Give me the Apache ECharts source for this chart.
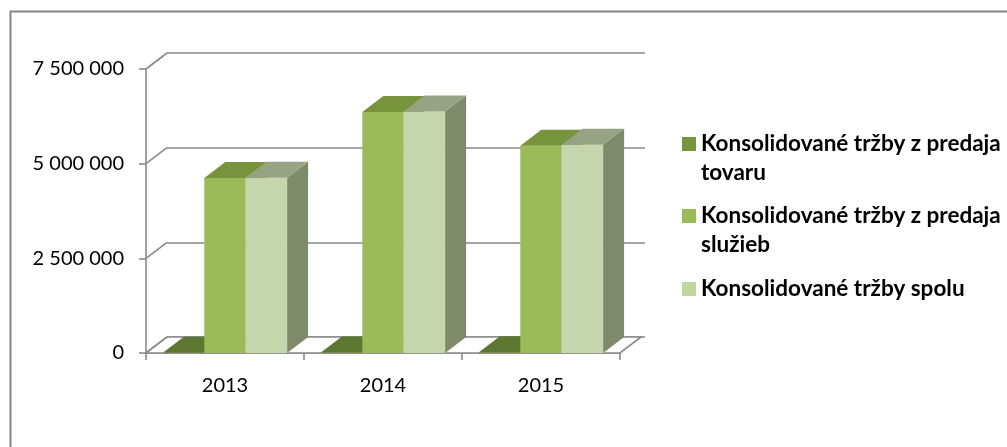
<!DOCTYPE html>
<html>
<head>
<meta charset="utf-8">
<script src="https://cdn.jsdelivr.net/npm/echarts@6/dist/echarts.min.js"></script>
<style>
  html, body { margin: 0; padding: 0; background: #fff; }
  #main { width: 1007px; height: 447px; }
</style>
</head>
<body>
<div id="main"></div>
<script>
// roky a hodnoty (odčítané z grafu)
var years = ['2013', '2014', '2015'];
var trzbyTovar = [8000, 14000, 22000];
var trzbySluzby = [4620000, 6365000, 5475000];
var trzbySpolu = [4628000, 6379000, 5497000];
var yTicks = [0, 2500000, 5000000, 7500000];

var seriesNames = [
    'Konsolidované tržby z predaja tovaru',
    'Konsolidované tržby z predaja služieb',
    'Konsolidované tržby spolu'
];
// prvý prázdny riadok - aby bol štvorček pri prvom riadku textu
var legendLabels = [
    ' \nKonsolidované tržby z predaja\ntovaru',
    ' \nKonsolidované tržby z predaja\nslužieb',
    'Konsolidované tržby spolu'
];

// farby: čelo, vrch, bok
var faces = [
    {front: '#77933c', top: '#5d7630', side: '#4f6228', legend: '#77933c'},
    {front: '#9bbb59', top: '#77933c', side: '#6b8a36', legend: '#9bbb59'},
    {front: '#c6d6ac', top: '#97a382', side: '#7f8a6a', legend: '#c3d69b'}
];

var DX = 21, DY = -16;   // hĺbka 3D
var FONT = 'Lato';
var GRID_LINE = '#8a8a8a';

function fmt(v) {
    return String(v).replace(/\B(?=(\d{3})+(?!\d))/g, ' ');
}

// 3D stĺpec
function barRenderer(k) {
    return function (params, api) {
        var i = api.value(0);
        var v = api.value(1);
        var p0 = api.coord([i, 0]);
        var p1 = api.coord([i, v]);
        var catW = api.size([1, 0])[0];
        var bw = catW * 0.262;
        var x0 = p0[0] + (k - 1.5) * bw;
        var x1 = x0 + bw;
        var y0 = p0[1], y1 = p1[1];
        var f = faces[k];
        return {
            type: 'group',
            children: [
                {type: 'polygon', shape: {points: [[x1, y1], [x1 + DX, y1 + DY], [x1 + DX, y0 + DY], [x1, y0]]},
                    style: {fill: f.side}},
                {type: 'rect', shape: {x: x0, y: y1, width: bw, height: y0 - y1},
                    style: {fill: f.front}},
                {type: 'polygon', shape: {points: [[x0, y1], [x1, y1], [x1 + DX, y1 + DY], [x0 + DX, y1 + DY]]},
                    style: {fill: f.top}}
            ]
        };
    };
}

// podlaha a šikmé čiary ľavej steny
function frameRenderer(params, api) {
    var v = api.value(0);
    var a = api.coord([0, v]);
    var catW = api.size([1, 0])[0];
    var xl = a[0] - catW / 2;
    var children = [
        {type: 'line', shape: {x1: xl, y1: a[1], x2: xl + DX, y2: a[1] + DY},
            style: {stroke: GRID_LINE, lineWidth: 1.6}}
    ];
    if (v === 0) {
        var xr = xl + catW * years.length;
        children.push({
            type: 'polygon',
            shape: {points: [[xl, a[1]], [xr, a[1]], [xr + DX, a[1] + DY], [xl + DX, a[1] + DY]]},
            style: {fill: '#fff', stroke: GRID_LINE, lineWidth: 1.6}
        });
    }
    return {type: 'group', children: children};
}

var chart = echarts.init(document.getElementById('main'));

var series = [{
    type: 'custom',
    name: 'frame',
    xAxisIndex: 0,
    yAxisIndex: 0,
    silent: true,
    z: 1,
    renderItem: frameRenderer,
    data: yTicks.map(function (t) { return [t]; }),
    encode: {y: 0}
}];
var dataSets = [trzbyTovar, trzbySluzby, trzbySpolu];
for (var k = 0; k < 3; k++) {
    series.push({
        type: 'custom',
        name: seriesNames[k],
        xAxisIndex: 0,
        yAxisIndex: 0,
        z: 3 + k,
        itemStyle: {color: faces[k].legend},
        renderItem: barRenderer(k),
        data: dataSets[k].map(function (v, i) { return [i, v]; }),
        encode: {x: 0, y: 1}
    });
}

// legenda - každá položka zvlášť
var legendTops = [100.5, 172.5, 274.5];
var legends = [];
for (var j = 0; j < 3; j++) {
    legends.push({
        left: 682,
        top: legendTops[j],
        padding: 0,
        itemWidth: 14,
        itemHeight: 14,
        itemGap: 6,
        icon: 'rect',
        selectedMode: false,
        data: [seriesNames[j]],
        formatter: (function (lbl) { return function () { return lbl; }; })(legendLabels[j]),
        textStyle: {
            fontFamily: FONT,
            fontWeight: 'bold',
            fontSize: 22.5,
            color: '#000',
            lineHeight: 29
        }
    });
}

var option = {
    animation: false,
    backgroundColor: '#fff',
    graphic: [{
        type: 'rect',
        shape: {x: 10.5, y: 11.5, width: 1020, height: 460},
        style: {fill: 'none', stroke: '#868686', lineWidth: 2},
        silent: true
    }],
    legend: legends,
    grid: [
        {left: 146, right: 387, top: 69, bottom: 94},
        {left: 146 + DX, right: 362, top: 69 + DY, bottom: 94 - DY}
    ],
    xAxis: [{
        type: 'category',
        data: years,
        gridIndex: 0,
        axisLine: {lineStyle: {color: GRID_LINE, width: 1.6}},
        axisTick: {show: true, length: 7, lineStyle: {color: GRID_LINE, width: 1.6}},
        axisLabel: {margin: 23, color: '#000', fontFamily: FONT, fontSize: 20}
    }, {
        type: 'category',
        data: years,
        gridIndex: 1,
        show: false
    }],
    yAxis: [{
        type: 'value',
        gridIndex: 0,
        min: 0,
        max: 7500000,
        interval: 2500000,
        axisLine: {show: true, lineStyle: {color: GRID_LINE, width: 1.6}},
        axisTick: {show: true, length: 7, lineStyle: {color: GRID_LINE, width: 1.6}},
        splitLine: {show: false},
        axisLabel: {
            margin: 22,
            color: '#000',
            fontFamily: FONT,
            fontSize: 20,
            formatter: function (v) { return fmt(v); }
        }
    }, {
        type: 'value',
        gridIndex: 1,
        min: 0,
        max: 7500000,
        interval: 2500000,
        axisLine: {show: false},
        axisTick: {show: false},
        axisLabel: {show: false},
        splitLine: {show: true, lineStyle: {color: GRID_LINE, width: 1.6}}
    }],
    series: series
};
chart.setOption(option);
</script>
</body>
</html>
